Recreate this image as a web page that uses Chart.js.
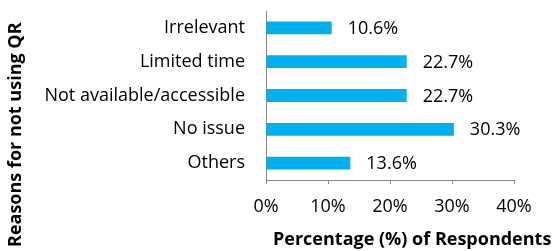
<!DOCTYPE html>
<html>
<head>
<meta charset="utf-8">
<script src="https://cdn.jsdelivr.net/npm/chart.js@4"></script>
<style>
html,body{margin:0;padding:0;background:#fff;}
#wrap{position:relative;width:552px;height:251px;}
</style>
</head>
<body>
<div id="wrap"><canvas id="c" width="552" height="251"></canvas></div>
<script>
const categories = ["Irrelevant", "Limited time", "Not available/accessible", "No issue", "Others"];
const values = [10.6, 22.7, 22.7, 30.3, 13.6];
const valueLabels = ["10.6%", "22.7%", "22.7%", "30.3%", "13.6%"];
const xTicks = [0, 10, 20, 30, 40];
const xTitle = "Percentage (%) of Respondents";
const yTitle = "Reasons for not using QR";

const FONT = "'Open Sans'";
const AXIS = "#868686";

const labelPlugin = {
  id: "labels",
  afterDatasetsDraw(chart) {
    const ctx = chart.ctx;
    const meta = chart.getDatasetMeta(0);
    ctx.save();
    ctx.font = "18px " + FONT;
    ctx.fillStyle = "#000";
    ctx.textAlign = "left";
    ctx.textBaseline = "middle";
    meta.data.forEach((bar, i) => {
      ctx.fillText(valueLabels[i], bar.x + 16, bar.y + 1);
    });
    ctx.restore();
  }
};

const titlePlugin = {
  id: "titles",
  afterDraw(chart) {
    const ctx = chart.ctx;
    ctx.save();
    ctx.font = "bold 18px " + FONT;
    ctx.fillStyle = "#000";
    ctx.textBaseline = "middle";
    ctx.textAlign = "left";
    ctx.fillText(xTitle, 273, 240);
    ctx.translate(16, 247);
    ctx.rotate(-Math.PI / 2);
    ctx.fillText(yTitle, 0, 0);
    ctx.restore();
  }
};

new Chart(document.getElementById("c"), {
  type: "bar",
  data: {
    labels: categories,
    datasets: [{
      data: values,
      backgroundColor: "#00B0F0",
      barPercentage: 0.38,
      categoryPercentage: 1.0
    }]
  },
  options: {
    indexAxis: "y",
    responsive: false,
    animation: false,
    layout: { padding: { top: 11, right: 38, left: 0, bottom: 0 } },
    plugins: { legend: { display: false }, tooltip: { enabled: false } },
    scales: {
      x: {
        min: 0, max: 40,
        afterBuildTicks(s) { s.ticks = xTicks.map(v => ({ value: v })); },
        afterFit(s) { s.height = 71; s.paddingLeft = 0; s.paddingRight = 0; },
        border: { display: true, color: AXIS, width: 1 },
        grid: { display: true, drawOnChartArea: false, drawTicks: true, tickLength: 4, color: AXIS },
        ticks: {
          callback: v => v + "%",
          color: "#000",
          font: { family: FONT, size: 18 },
          padding: 12,
          maxRotation: 0
        }
      },
      y: {
        afterFit(s) { s.width = 266; s.paddingTop = 0; s.paddingBottom = 0; },
        border: { display: true, color: AXIS, width: 1 },
        grid: { display: false, drawTicks: false },
        ticks: {
          color: "#000",
          font: { family: FONT, size: 18 },
          padding: 21
        }
      }
    }
  },
  plugins: [labelPlugin, titlePlugin]
});
</script>
</body>
</html>
